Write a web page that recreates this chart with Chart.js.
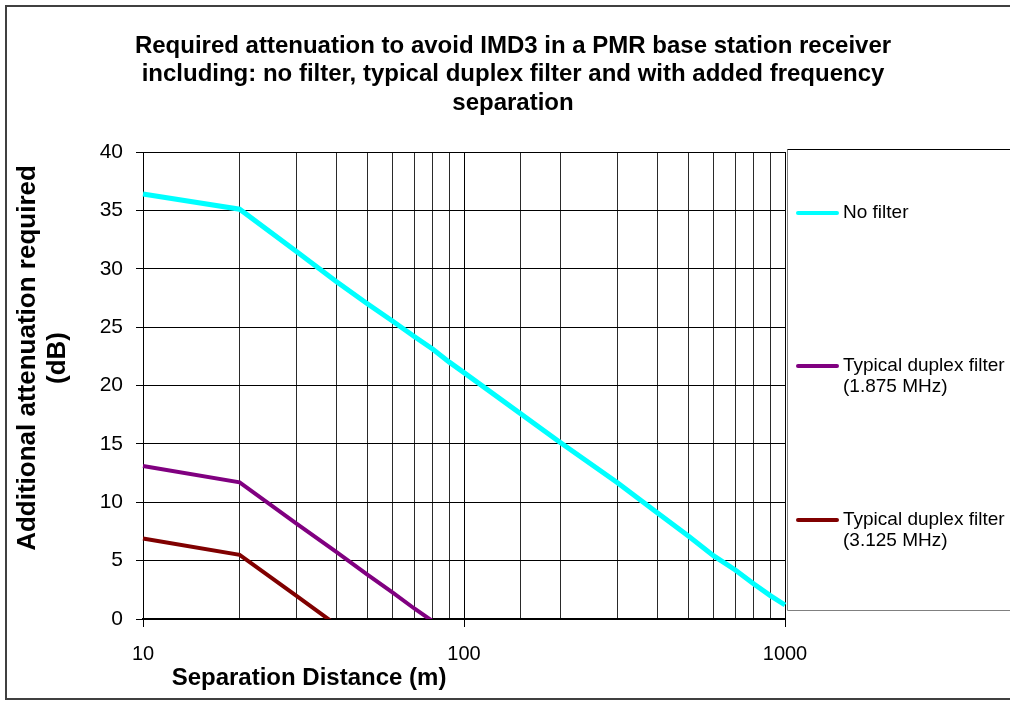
<!DOCTYPE html>
<html>
<head>
<meta charset="utf-8">
<script src="https://cdn.jsdelivr.net/npm/chart.js@4/dist/chart.umd.min.js"></script>
<style>
  html, body { margin: 0; padding: 0; background: #fff; }
  #wrap { width: 1010px; height: 702px; }
</style>
</head>
<body>
<div id="wrap"><canvas id="chart" width="1010" height="702"></canvas></div>
<script>
// separation distance (m)
const DISTANCE = [10, 20, 30, 40, 50, 60, 70, 80, 90, 100, 200, 300, 400, 500, 600, 700, 800, 900, 1000];
// additional attenuation required (dB)
const NO_FILTER = [36.4, 35.1, 31.5, 28.9, 27.0, 25.5, 24.2, 23.1, 22.0, 21.1, 15.1, 11.7, 9.1, 7.1, 5.4, 4.2, 3.0, 2.0, 1.2];
const DUPLEX_1875 = [13.1, 11.7, 8.2, 5.75, 3.8, 2.25, 0.9, -0.2];
const DUPLEX_3125 = [6.9, 5.5, 2.0, -0.5];

const X_LABELS = [10, 100, 1000];
const Y_TICKS = [0, 5, 10, 15, 20, 25, 30, 35, 40];

const TITLE = [
  'Required attenuation to avoid IMD3 in a PMR base station receiver',
  'including: no filter, typical duplex filter and with added frequency',
  'separation',
];
const X_TITLE = 'Separation Distance (m)';
const Y_TITLE = ['Additional attenuation required', '(dB)'];

const SERIES = [
  { label: ['No filter'], values: NO_FILTER, color: '#00FFFF', width: 5 },
  { label: ['Typical duplex filter', '(1.875 MHz)'], values: DUPLEX_1875, color: '#800080', width: 4 },
  { label: ['Typical duplex filter', '(3.125 MHz)'], values: DUPLEX_3125, color: '#800000', width: 4 },
];

const FONT = '"Liberation Sans", Arial, sans-serif';

const toPoints = vals => vals.map((v, i) => ({ x: DISTANCE[i], y: v }));

// frame, titles and the boxed legend, drawn around the Chart.js plot
const decorations = {
  id: 'decorations',
  beforeDraw(chart) {
    const ctx = chart.ctx;
    ctx.save();
    ctx.fillStyle = '#fff';
    ctx.fillRect(0, 0, chart.width, chart.height);
    ctx.strokeStyle = '#404040';
    ctx.lineWidth = 2;
    ctx.strokeRect(6, 6, chart.width + 10, 693);
    ctx.restore();
  },
  afterDraw(chart) {
    const ctx = chart.ctx;
    const area = chart.chartArea;
    ctx.save();
    ctx.fillStyle = '#000';
    ctx.textAlign = 'center';
    ctx.textBaseline = 'middle';

    ctx.font = 'bold 24px ' + FONT;
    TITLE.forEach((line, i) => ctx.fillText(line, 513, 46 + i * 28.5));

    ctx.fillText(X_TITLE, 309, 678);

    ctx.save();
    ctx.translate(0, 358);
    ctx.rotate(-Math.PI / 2);
    ctx.font = 'bold 26px ' + FONT;
    Y_TITLE.forEach((line, i) => ctx.fillText(line, 0, 28 + i * 30));
    ctx.restore();

    // legend box
    const bx = area.right + 2.5, by = 149.5, bBottom = 610.5;
    ctx.lineWidth = 1;
    ctx.strokeStyle = '#808080';
    ctx.beginPath();
    ctx.moveTo(bx, by);
    ctx.lineTo(bx, bBottom);
    ctx.lineTo(chart.width, bBottom);
    ctx.stroke();
    ctx.strokeStyle = '#000';
    ctx.beginPath();
    ctx.moveTo(bx, by);
    ctx.lineTo(chart.width, by);
    ctx.stroke();

    const itemY = [213, 366, 520];
    ctx.textAlign = 'left';
    ctx.font = '19px ' + FONT;
    chart.data.datasets.forEach((ds, i) => {
      const y = itemY[i];
      ctx.strokeStyle = ds.borderColor;
      ctx.lineWidth = 4;
      ctx.lineCap = 'round';
      ctx.beginPath();
      ctx.moveTo(798, y);
      ctx.lineTo(837, y);
      ctx.stroke();
      ctx.fillStyle = '#000';
      ds.legendLines.forEach((t, j) => ctx.fillText(t, 843, y + j * 21));
    });
    ctx.restore();
  },
};

new Chart(document.getElementById('chart'), {
  type: 'line',
  data: {
    datasets: SERIES.map(s => ({
      label: s.label.join(' '),
      legendLines: s.label,
      data: toPoints(s.values),
      borderColor: s.color,
      backgroundColor: s.color,
      borderWidth: s.width,
      pointRadius: 0,
      tension: 0,
      clip: { left: 3, right: 3, top: 3, bottom: 0 },
    })),
  },
  options: {
    responsive: false,
    animation: false,
    layout: { padding: { left: 0, top: 152, right: 225, bottom: 0 } },
    plugins: {
      legend: { display: false },
      title: { display: false },
      tooltip: { enabled: false },
    },
    scales: {
      x: {
        type: 'logarithmic',
        min: 10,
        max: 1000,
        afterFit: s => { s.height = 83; },
        afterBuildTicks: s => { s.ticks = s.ticks.filter(t => t.value >= 10 && t.value <= 1000); },
        ticks: {
          autoSkip: false,
          maxRotation: 0,
          color: '#000',
          font: { family: FONT, size: 20 },
          padding: 15,
          callback: v => (X_LABELS.includes(v) ? String(v) : ''),
        },
        grid: {
          color: ctx => (X_LABELS.includes(ctx.tick && ctx.tick.value) ? '#000' : '#2a2a2a'),
          tickColor: ctx => (X_LABELS.includes(ctx.tick && ctx.tick.value) ? '#000' : 'rgba(0,0,0,0)'),
          tickLength: 8,
          lineWidth: 1,
        },
        border: { color: '#000', width: 2 },
      },
      y: {
        min: 0,
        max: 40,
        afterFit: s => { s.width = 143; },
        afterBuildTicks: s => { s.ticks = Y_TICKS.map(v => ({ value: v })); },
        ticks: {
          color: '#000',
          font: { family: FONT, size: 21 },
          padding: 13,
        },
        grid: { color: '#000', lineWidth: 1, tickLength: 7 },
        border: { color: '#000', width: 1 },
      },
    },
  },
  plugins: [decorations],
});
</script>
</body>
</html>
